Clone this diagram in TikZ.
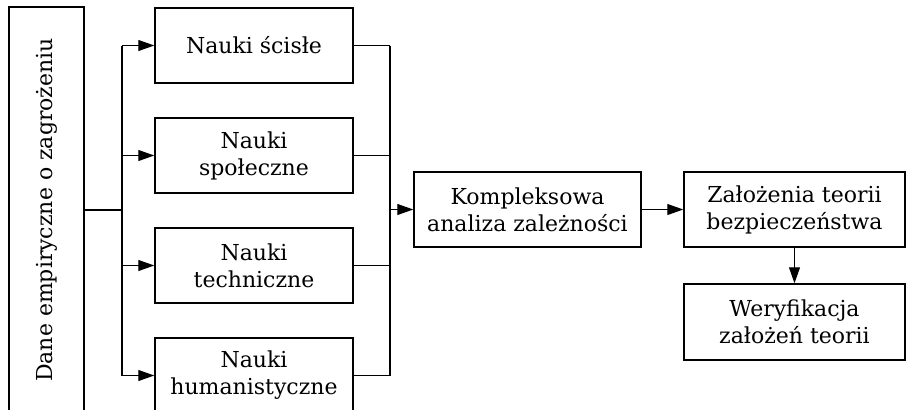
\documentclass[tikz,border=0pt]{standalone}
\usepackage{fontspec}
\setmainfont{DejaVu Serif}
\usetikzlibrary{arrows.meta}
\begin{document}
\begin{tikzpicture}[x=1pt,y=-1pt,
  box/.style={draw, line width=1.5pt, align=center, inner sep=0pt,
    font=\fontsize{22}{27}\selectfont, minimum height=75pt},
  conn/.style={line width=1.1pt},
  arr/.style={line width=1.1pt, -{Triangle[length=16pt,width=11pt]}}]
\useasboundingbox (0,0) rectangle (906,410);
\clip (0,0) rectangle (906,410);
\node[box, rotate=90, minimum width=406pt, minimum height=75pt] (dane) at (46.5,210) {Dane empiryczne o zagrożeniu};
\node[box, minimum width=198pt] (n1) at (254,45.5) {Nauki ścisłe};
\node[box, minimum width=198pt] (n2) at (254,155.5) {Nauki\\społeczne};
\node[box, minimum width=198pt] (n3) at (254,265.5) {Nauki\\techniczne};
\node[box, minimum width=198pt] (n4) at (254,375.5) {Nauki\\humanistyczne};
\node[box, minimum width=227pt] (komp) at (527.5,209.5) {Kompleksowa\\analiza zależności};
\node[box, minimum width=221pt] (zal) at (794.5,209.5) {Założenia teorii\\bezpieczeństwa};
\node[box, minimum width=221pt, minimum height=76pt] (wer) at (794.5,322) {Weryfikacja\\założeń teorii};
\coordinate (lb) at (122,210);
\coordinate (rb) at (390,210);
\draw[conn] (dane.south |- lb) -- (lb);
\draw[conn] (lb |- n1.west) -- (lb |- n4.west);
\foreach \n in {n1,n2,n3,n4}{
  \draw[arr] (lb |- \n.west) -- (\n.west);
  \draw[conn] (\n.east) -- (rb |- \n.east);
}
\draw[conn] (rb |- n1.east) -- (rb |- n4.east);
\draw[arr] (rb |- komp.west) -- (komp.west);
\draw[arr] (komp.east) -- (zal.west);
\draw[arr] (zal.south) -- (wer.north);
\end{tikzpicture}
\end{document}
